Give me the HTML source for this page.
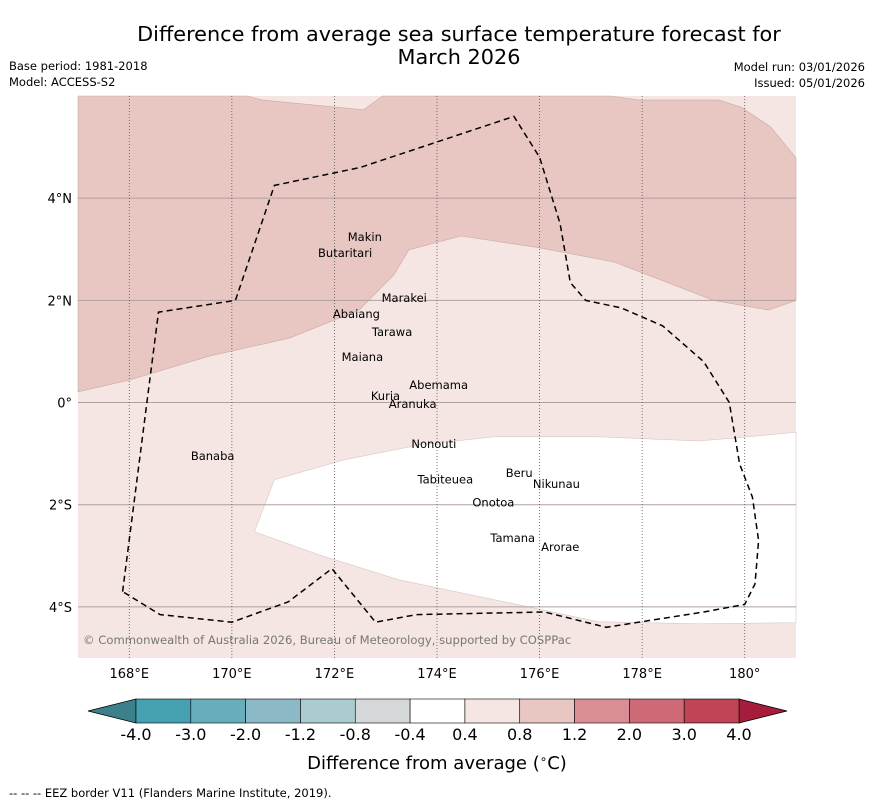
<!DOCTYPE html>
<html><head><meta charset="utf-8"><style>
body{margin:0;background:#fff;font-family:"Liberation Sans","DejaVu Sans",sans-serif;}
svg text{font-family:"DejaVu Sans","Liberation Sans",sans-serif;}
</style></head><body>
<svg id="chart" width="873" height="804" xmlns="http://www.w3.org/2000/svg">
<text x="459" y="41" font-size="20.8" text-anchor="middle">Difference from average sea surface temperature forecast for</text>
<text x="459" y="64" font-size="20.8" text-anchor="middle">March 2026</text>
<text x="9" y="70" font-size="11.5">Base period: 1981-2018</text>
<text x="9" y="86" font-size="11.5">Model: ACCESS-S2</text>
<text x="865" y="71" font-size="11.5" text-anchor="end">Model run: 03/01/2026</text>
<text x="865" y="87" font-size="11.5" text-anchor="end">Issued: 05/01/2026</text>
<g id="map"></g>
<g id="cbar"></g>
<text x="437" y="769" font-size="18" text-anchor="middle">Difference from average (<tspan font-size="12" dy="-6">∘</tspan><tspan dy="6">C)</tspan></text>
<text x="9" y="797" font-size="11.5">--  --  -- EEZ border V11 (Flanders Marine Institute, 2019).</text>
</svg>
<script>
const lonMin=167, lonMax=181, latMin=-5, latMax=6;
const X0=78,X1=796,Y0=96,Y1=658;
const lonTicks=[168,170,172,174,176,178,180];
const lonLabels=["168°E","170°E","172°E","174°E","176°E","178°E","180°"];
const latTicks=[4,2,0,-2,-4];
const latLabels=["4°N","2°N","0°","2°S","4°S"];
const upperPink=[[167,0.21],[168,0.44],[169.56,0.91],[171.12,1.26],[172.48,1.81],[173.16,2.5],[173.45,2.99],[174.47,3.26],[175.99,3.03],[177.45,2.75],[179.4,2.0],[180.47,1.81],[181,2.0],[181,4.79],[180.5,5.4],[179.93,5.78],[179.5,5.92],[177.95,5.92],[177.4,6],[172.94,6],[172.57,5.73],[170.6,5.92],[170.3,6],[167,6]];
const whitePatch=[[170.83,-1.51],[172.19,-1.12],[173.65,-0.83],[175.1,-0.67],[177.14,-0.67],[179.09,-0.75],[179.86,-0.69],[181,-0.58],[181,-4.31],[179.09,-4.33],[177.14,-4.29],[175.6,-3.96],[173.26,-3.47],[171.7,-2.98],[170.44,-2.53]];
const eez=[[167.87,-3.7],[168.57,1.77],[170.07,2.0],[170.83,4.25],[172.5,4.6],[175.5,5.6],[176.0,4.8],[176.4,3.5],[176.6,2.35],[176.9,2.0],[177.6,1.85],[178.4,1.5],[179.2,0.8],[179.7,0.0],[179.9,-1.2],[180.15,-1.85],[180.27,-2.7],[180.2,-3.55],[180.0,-3.95],[179.2,-4.1],[177.3,-4.4],[176.1,-4.1],[173.6,-4.15],[172.8,-4.3],[171.95,-3.25],[171.1,-3.9],[170,-4.3],[168.6,-4.15],[167.87,-3.7]];
const islands=["Makin","Butaritari","Marakei","Abaiang","Tarawa","Maiana","Abemama","Kuria","Aranuka","Nonouti","Banaba","Beru","Nikunau","Tabiteuea","Onotoa","Tamana","Arorae"];
const islandLon=[172.26,171.68,172.92,171.97,172.73,172.14,173.46,172.71,173.06,173.5,169.2,175.34,175.87,173.62,174.69,175.04,176.03];
const islandLat=[3.24,2.93,2.05,1.73,1.38,0.89,0.34,0.13,-0.03,-0.81,-1.05,-1.38,-1.59,-1.51,-1.96,-2.65,-2.83];
const cbVals=["-4.0","-3.0","-2.0","-1.2","-0.8","-0.4","0.4","0.8","1.2","2.0","3.0","4.0"];
const cbColors=["#45a1b1","#68adbb","#8bbac6","#aacbcf","#d4d8d8","#ffffff","#f5e6e4","#e8c7c2","#d98d94","#cd6a75","#c04554"];
const NS="http://www.w3.org/2000/svg";
const sx=l=>X0+(l-lonMin)/(lonMax-lonMin)*(X1-X0);
const sy=l=>Y0+(latMax-l)/(latMax-latMin)*(Y1-Y0);
function mk(t,a,p){const e=document.createElementNS(NS,t);for(const k in a)e.setAttribute(k,a[k]);p.appendChild(e);return e;}
const map=document.getElementById('map');
const pts=a=>a.map(p=>sx(p[0]).toFixed(1)+","+sy(p[1]).toFixed(1)).join(" ");
let bg=mk('rect',{x:X0,y:Y0,width:X1-X0,height:Y1-Y0,fill:"#f5e6e4"},map);


let up=mk('polygon',{points:pts(upperPink),fill:"#e8c7c2",stroke:"#c9a9a5","stroke-width":0.6},map);


let wp=mk('polygon',{points:pts(whitePatch),fill:"#ffffff",stroke:"#d8c8c6","stroke-width":0.6},map);


latTicks.forEach((v,i)=>{
 let g=mk('line',{x1:X0,x2:X1,y1:sy(v),y2:sy(v),stroke:"#b0a0a0","stroke-width":1},map);
 
 
 let t=mk('text',{x:X0-6,y:sy(v)+5,"font-size":13,"text-anchor":"end"},map);t.textContent=latLabels[i];
 
 
});
lonTicks.forEach((v,i)=>{
 let g=mk('line',{x1:sx(v),x2:sx(v),y1:Y0,y2:Y1,stroke:"#555","stroke-width":0.8,"stroke-dasharray":"1,2"},map);
 
 
 let t=mk('text',{x:sx(v),y:Y1+20,"font-size":13,"text-anchor":"middle"},map);t.textContent=lonLabels[i];
 
 
});
let ez=mk('polyline',{points:pts(eez),fill:"none",stroke:"#000","stroke-width":1.5,"stroke-dasharray":"6,4"},map);


islands.forEach((n,i)=>{
 let t=mk('text',{x:sx(islandLon[i]),y:sy(islandLat[i])+4,"font-size":11.5,"text-anchor":"start"},map);t.textContent=n;
 
 
});
let cp=mk('text',{x:83,y:644,"font-size":11.6,fill:"#777"},map);cp.textContent="© Commonwealth of Australia 2026, Bureau of Meteorology, supported by COSPPac";


const cb=document.getElementById('cbar');
const cbX0=136,cbX1=739,cy0=699,cy1=723,bw=(cbX1-cbX0)/cbColors.length;
let lt=mk('polygon',{points:`88,711 ${cbX0},${cy0} ${cbX0},${cy1}`,fill:"#3b808b",stroke:"#000","stroke-width":0.8},cb);


let rt=mk('polygon',{points:`787,711 ${cbX1},${cy0} ${cbX1},${cy1}`,fill:"#a51d3b",stroke:"#000","stroke-width":0.8},cb);


cbColors.forEach((c,i)=>{
 let r=mk('rect',{x:cbX0+i*bw,y:cy0,width:bw,height:cy1-cy0,fill:c,stroke:"#000","stroke-width":0.6},cb);
 
 
});
cbVals.forEach((v,i)=>{
 let t=mk('text',{x:cbX0+i*bw,y:740,"font-size":16,"text-anchor":"middle"},cb);t.textContent=v;
 
 
});
</script>
</body></html>
